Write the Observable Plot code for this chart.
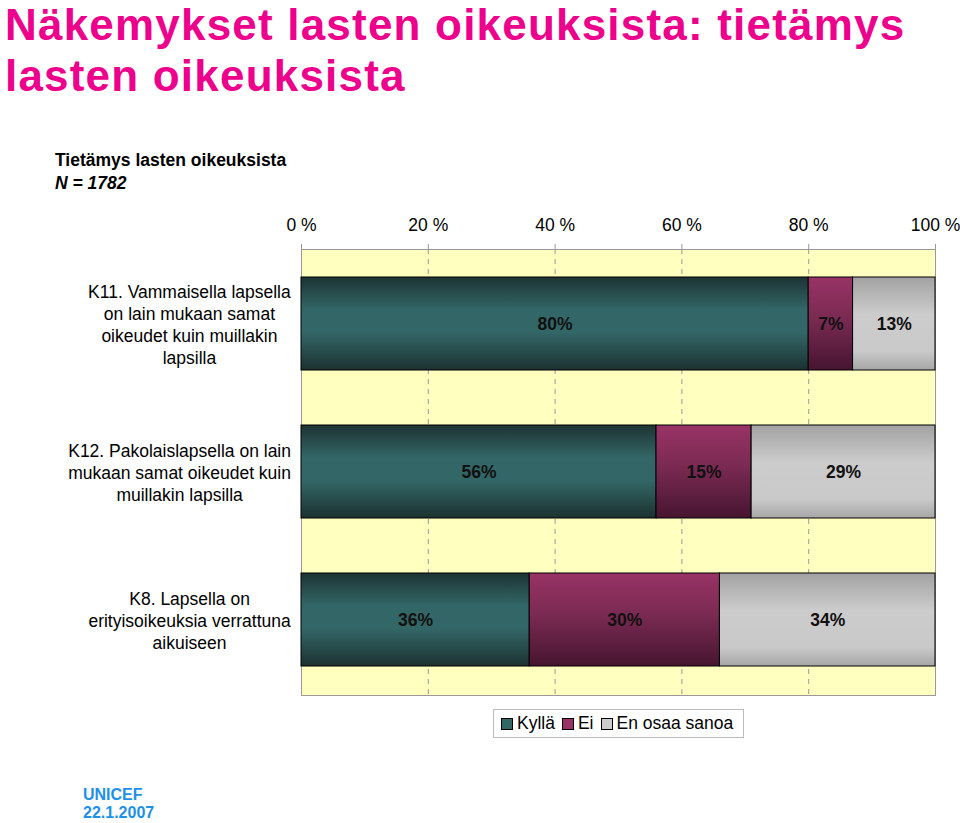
<!DOCTYPE html>
<html>
<head>
<meta charset="utf-8">
<script src="https://cdn.jsdelivr.net/npm/d3@7"></script>
<script src="https://cdn.jsdelivr.net/npm/@observablehq/plot@0.6"></script>
<style>
  html, body { margin: 0; padding: 0; background: #fff; }
  body { width: 960px; height: 823px; position: relative; overflow: hidden; font-family: "Liberation Sans", Arial, sans-serif; }
  .title { position: absolute; left: 5px; font-size: 44px; line-height: 42px; letter-spacing: 1.2px; font-weight: bold; color: #EC008C; white-space: nowrap; }
  #subtitle { position: absolute; left: 55px; top: 149px; font-size: 17.5px; line-height: 23px; font-weight: bold; color: #000; }
  #subtitle i { font-style: italic; }
  #chart { position: absolute; left: 0; top: 200px; }
  #legend { position: absolute; left: 493px; top: 709px; width: 249px; height: 27px; border: 1px solid #bbb; background: #fff; display: flex; align-items: center; font-size: 17.5px; box-sizing: content-box; }
  #legend .item { display: flex; align-items: center; margin-left: 7px; }
  #legend .sw { width: 10px; height: 10px; border: 1px solid #000; margin-right: 4px; }
  .footer { position: absolute; left: 83px; font-size: 16px; line-height: 14px; font-weight: bold; color: #1E90E6; white-space: nowrap; }
</style>
</head>
<body>
<div class="title" style="top:4px">Näkemykset lasten oikeuksista: tietämys</div>
<div class="title" style="top:55px">lasten oikeuksista</div>
<div id="subtitle">Tietämys lasten oikeuksista<br><i>N = 1782</i></div>
<div id="chart"></div>
<div id="legend"></div>
<div class="footer" style="top:787.5px">UNICEF</div>
<div class="footer" style="top:806px">22.1.2007</div>
<script>
// ---- data ----
const questions = [
  "K11. Vammaisella lapsella\non lain mukaan samat\noikeudet kuin muillakin\nlapsilla",
  "K12. Pakolaislapsella on lain\nmukaan samat oikeudet kuin\nmuillakin lapsilla",
  "K8. Lapsella on\nerityisoikeuksia verrattuna\naikuiseen"
];
const responses = ["Kyllä", "Ei", "En osaa sanoa"];
const kylla = [80, 56, 36];
const ei = [7, 15, 30];
const enOsaa = [13, 29, 34];
const xTicks = [0, 20, 40, 60, 80, 100];
const gridTicks = [20, 40, 60, 80];

const seriesValues = [kylla, ei, enOsaa];
const data = questions.flatMap((q, i) =>
  responses.map((r, j) => ({ q, r, v: seriesValues[j][i] }))
);

// gradient definitions (fills)
const gradients = [
  { id: "gTeal", stops: [[0, "#1d3333"], [0.35, "#336666"], [0.6, "#336666"], [1, "#1c3131"]] },
  { id: "gMaroon", stops: [[0, "#993366"], [0.45, "#7a2a52"], [1, "#461530"]] },
  { id: "gGray", stops: [[0, "#a2a2a2"], [0.4, "#cccccc"], [0.8, "#c9c9c9"], [1, "#a6a6a6"]] }
];
const swatchColors = ["#336666", "#993366", "#cccccc"];

function defsMark() {
  const ns = "http://www.w3.org/2000/svg";
  const defs = document.createElementNS(ns, "defs");
  for (const g of gradients) {
    const lg = document.createElementNS(ns, "linearGradient");
    lg.setAttribute("id", g.id);
    lg.setAttribute("x1", "0"); lg.setAttribute("y1", "0");
    lg.setAttribute("x2", "0"); lg.setAttribute("y2", "1");
    for (const [o, c] of g.stops) {
      const s = document.createElementNS(ns, "stop");
      s.setAttribute("offset", o);
      s.setAttribute("stop-color", c);
      lg.appendChild(s);
    }
    defs.appendChild(lg);
  }
  return defs;
}

const chart = Plot.plot({
  width: 960,
  height: 500,
  marginTop: 49,
  marginBottom: 5,
  marginLeft: 301,
  marginRight: 25,
  style: { fontFamily: "'Liberation Sans', Arial, sans-serif", fontSize: "17.5px", background: "transparent", color: "#000" },
  x: { domain: [0, 100] },
  y: { domain: questions, paddingInner: 0.37, paddingOuter: 0.185 },
  color: { type: "ordinal", domain: responses, range: gradients.map(g => `url(#${g.id})`) },
  marks: [
    defsMark,
    Plot.frame({ fill: "#FFFFC0", stroke: "#999" }),
    Plot.ruleX(gridTicks, { stroke: "#999", strokeDasharray: "5,5" }),
    Plot.axisX({ anchor: "top", ticks: xTicks, tickFormat: d => `${d} %`, tickSize: 6, tickPadding: 13, stroke: "#999", label: null, fill: "#000" }),
    Plot.axisY({ anchor: "left", tickSize: 0, tickPadding: 115, textAnchor: "middle", lineHeight: 1.26, label: null, fill: "#000" }),
    Plot.barX(data, Plot.stackX({ x: "v", y: "q", fill: "r", stroke: "#000", strokeWidth: 1 })),
    Plot.text(data, Plot.stackX({ x: "v", y: "q", z: "r", text: d => `${d.v}%`, fontWeight: "bold", fill: "#111" }))
  ]
});
document.getElementById("chart").appendChild(chart);

// align each centred category label block so its widest line ends 10px left of the plot area
const plotLeft = chart.getBoundingClientRect().left + 301;
chart.querySelectorAll('g[aria-label="y-axis tick label"] text').forEach(t => {
  const r = t.getBoundingClientRect();
  const shift = (plotLeft - 10) - r.right;
  const tr = t.getAttribute("transform") || "";
  t.setAttribute("transform", `${tr} translate(${shift},0)`);
});

// legend
const legend = document.getElementById("legend");
responses.forEach((r, i) => {
  const item = document.createElement("div");
  item.className = "item";
  const sw = document.createElement("div");
  sw.className = "sw";
  sw.style.background = swatchColors[i];
  const t = document.createElement("span");
  t.textContent = r;
  item.appendChild(sw);
  item.appendChild(t);
  legend.appendChild(item);
});
</script>
</body>
</html>
